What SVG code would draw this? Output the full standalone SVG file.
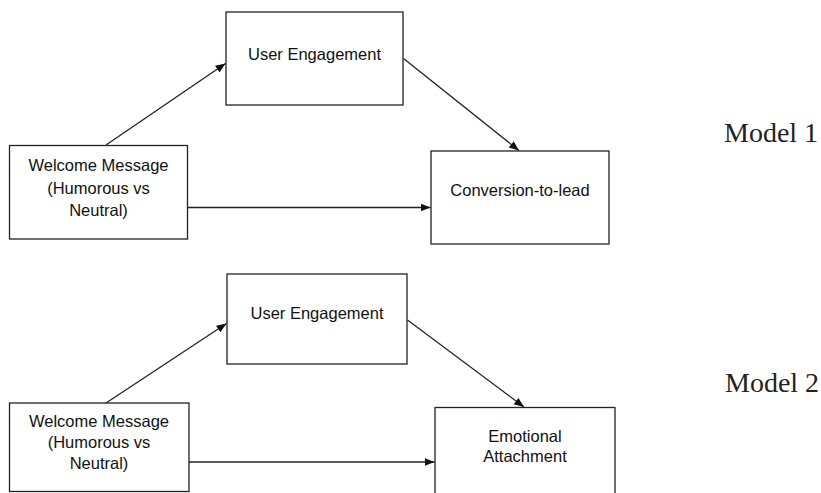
<svg xmlns="http://www.w3.org/2000/svg" width="821" height="493" viewBox="0 0 821 493">
  <style>
    .box { fill: #ffffff; stroke: #222222; stroke-width: 1.3; }
    .lbl { font-family: "Liberation Sans", Arial, sans-serif; font-size: 16.5px; fill: #111111; text-anchor: middle; }
    .model { font-family: "Liberation Serif", "Times New Roman", serif; font-size: 28px; fill: #222222; }
    .edge { stroke: #222222; stroke-width: 1.3; fill: none; marker-end: url(#head); }
  </style>
  <defs>
    <marker id="head" markerUnits="userSpaceOnUse" markerWidth="12" markerHeight="10" refX="10" refY="4" orient="auto">
      <path d="M0,0 L10,4 L0,8 Z" fill="#111111"/>
    </marker>
  </defs>
  <rect width="821" height="493" fill="#ffffff"/>

  <!-- Model 1 -->
  <g id="m1-engagement">
    <rect class="box" x="226" y="12" width="177" height="93"/>
    <text class="lbl" x="314.5" y="60">User Engagement</text>
  </g>
  <g id="m1-welcome">
    <rect class="box" x="9.5" y="145.5" width="178" height="93.5"/>
    <text class="lbl" x="98.5" y="170.5">Welcome Message</text>
    <text class="lbl" x="98.5" y="193.5">(Humorous vs</text>
    <text class="lbl" x="98.5" y="215.5">Neutral)</text>
  </g>
  <g id="m1-conversion">
    <rect class="box" x="431" y="151" width="178" height="93"/>
    <text class="lbl" x="520" y="196">Conversion-to-lead</text>
  </g>
  <text id="m1-title" class="model" x="724" y="142">Model 1</text>

  <!-- Model 2 -->
  <g id="m2-engagement">
    <rect class="box" x="227" y="274" width="180" height="90"/>
    <text class="lbl" x="317" y="319">User Engagement</text>
  </g>
  <g id="m2-welcome">
    <rect class="box" x="9.5" y="403" width="179.5" height="88.5"/>
    <text class="lbl" x="99" y="426.5">Welcome Message</text>
    <text class="lbl" x="99" y="448">(Humorous vs</text>
    <text class="lbl" x="99" y="469">Neutral)</text>
  </g>
  <g id="m2-attachment">
    <rect class="box" x="435" y="407.5" width="180" height="100"/>
    <text class="lbl" x="525" y="441.5">Emotional</text>
    <text class="lbl" x="525" y="461.5">Attachment</text>
  </g>
  <text id="m2-title" class="model" x="725" y="392">Model 2</text>

  <!-- connectors -->
  <g id="connectors">
    <line class="edge" x1="106" y1="145" x2="225.5" y2="63.5"/>
    <line class="edge" x1="403.5" y1="58.5" x2="519" y2="150.5"/>
    <line class="edge" x1="188" y1="207.5" x2="430.5" y2="207.5"/>
    <line class="edge" x1="106" y1="403" x2="226.5" y2="323.5"/>
    <line class="edge" x1="407.5" y1="320" x2="524" y2="407"/>
    <line class="edge" x1="189" y1="462" x2="434.5" y2="462"/>
  </g>
</svg>
